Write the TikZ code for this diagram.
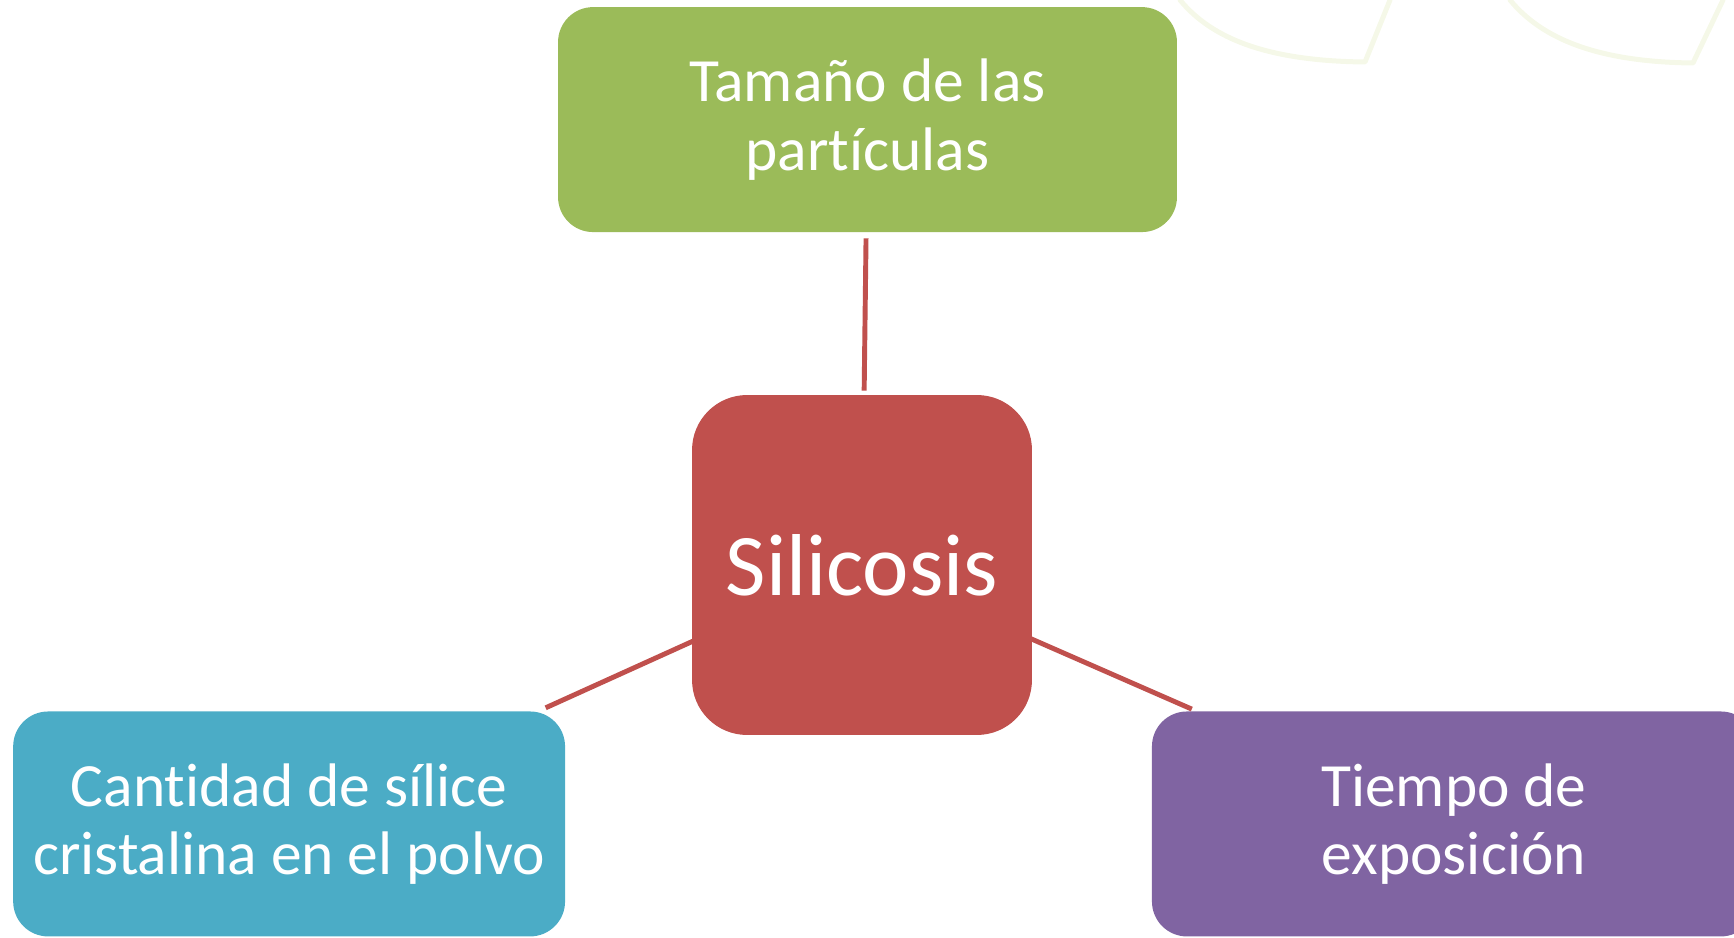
\documentclass[tikz,border=0pt]{standalone}
\usepackage{fontspec}
\setmainfont{Carlito}[Ligatures=NoCommon]
\usepackage{tikz}
\usetikzlibrary{positioning}
\definecolor{verde}{HTML}{9BBB59}
\definecolor{rojo}{HTML}{C0504D}
\definecolor{celeste}{HTML}{4BACC6}
\definecolor{morado}{HTML}{8064A2}
\definecolor{fondoverde}{HTML}{F5F8E8}
\tikzstyle{factor} = [rectangle, text=white, rounded corners=0.7cm,
    minimum height=4.5cm, inner sep=0pt, align=center, font=\fontsize{35}{39}\selectfont]
\tikzstyle{centro} = [rectangle, fill=rojo, text=white, rounded corners=1.1cm,
    minimum width=6.8cm, minimum height=6.8cm, inner sep=0pt, font=\fontsize{50}{60}\selectfont]
\tikzstyle{line} = [draw=rojo, line width=2.8pt]
\tikzstyle{fondo} = [draw=fondoverde, line width=0.1cm, line cap=round, line join=round]

\begin{document}
\begin{tikzpicture}[x=0.02cm,y=0.02cm]
\useasboundingbox (0,0) rectangle (1734,937);

% background leaves, top right
\draw[fondo] (1180,937) .. controls (1212,898) and (1268,876) .. (1365,875) -- (1390,937);
\draw[fondo] (1510,937) .. controls (1542,898) and (1598,875) .. (1693,874) -- (1723,937);

\node [centro] (sil) at (862,372) {Silicosis};
\node [factor, fill=verde, minimum width=12.38cm, above of=sil, node distance=8.91cm, xshift=0.11cm] (tam) {Tamaño de las\\partículas};
\node [factor, fill=celeste, minimum width=11.04cm, below of=sil, node distance=5.18cm, xshift=-11.46cm] (cant) {Cantidad de sílice\\cristalina en el polvo};
\node [factor, fill=morado, minimum width=12.08cm, below of=sil, node distance=5.18cm, xshift=11.84cm] (tiem) {Tiempo de\\exposición};

\draw[line, shorten <=0.08cm, shorten >=0.12cm] (sil) -- (tam);
\draw[line, shorten <=-0.06cm, shorten >=0.16cm] (sil) -- (cant);
\draw[line, shorten <=-0.1cm, shorten >=0.1cm] (sil) -- (tiem);

\end{tikzpicture}
\end{document}
